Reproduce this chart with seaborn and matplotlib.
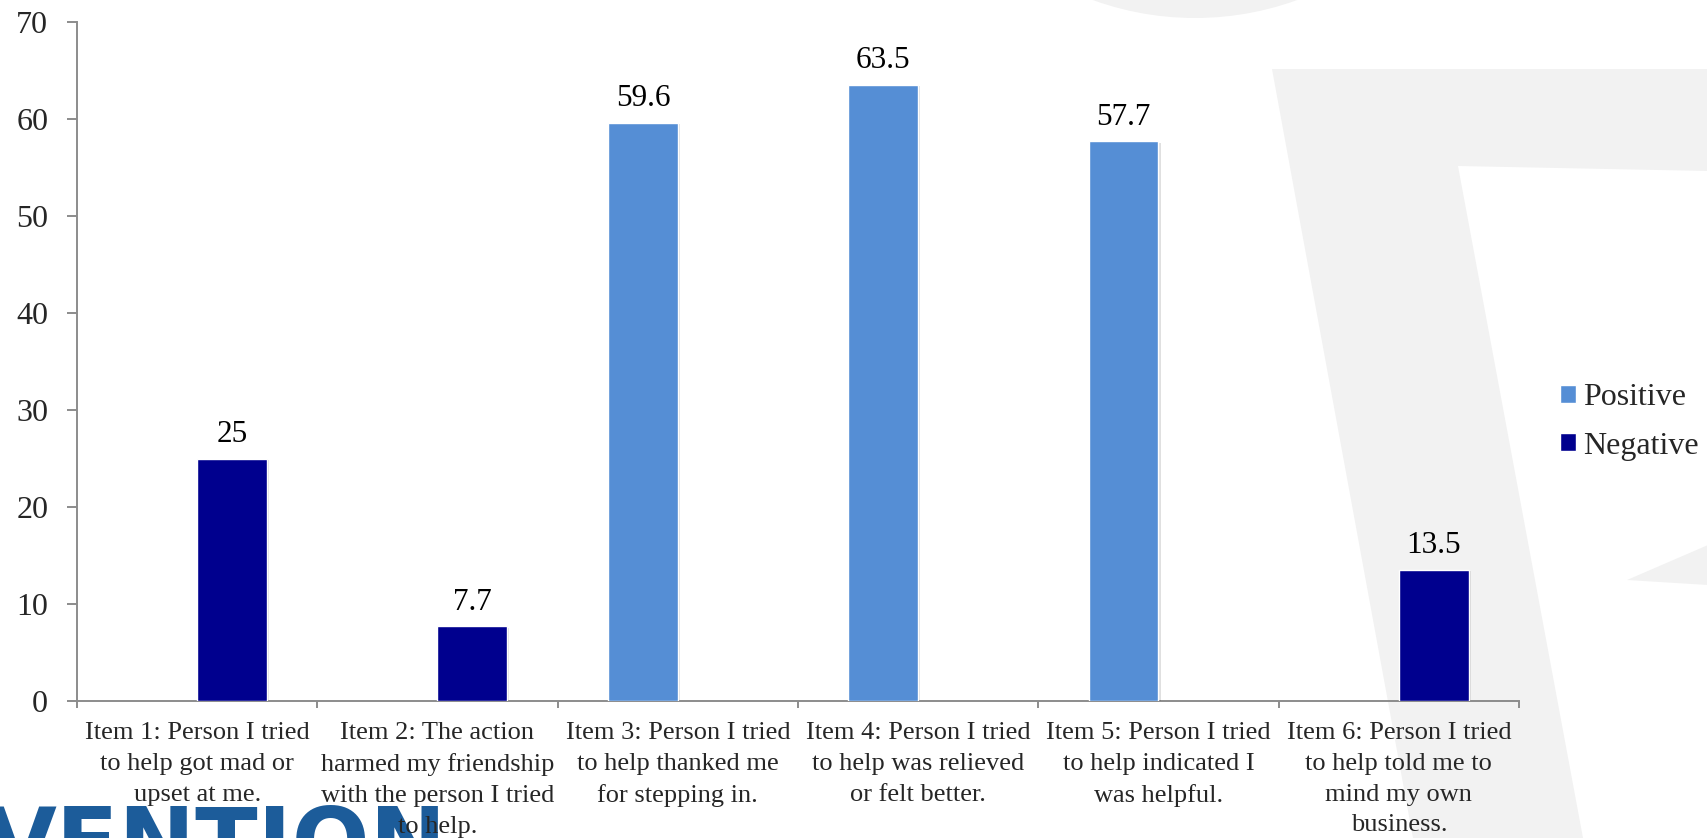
import numpy as np
import pandas as pd
import matplotlib
matplotlib.use("Agg")
import matplotlib.pyplot as plt
import matplotlib.patheffects as pe
from matplotlib.patches import Polygon, Ellipse
from matplotlib.ticker import FixedLocator
import seaborn as sns

# ---- data -------------------------------------------------------------
items = [
    "Item 1: Person I tried\nto help got mad or\nupset at me.",
    "Item 2: The action\nharmed my friendship\nwith the person I tried\nto help.",
    "Item 3: Person I tried\nto help thanked me\nfor stepping in.",
    "Item 4: Person I tried\nto help was relieved\nor felt better.",
    "Item 5: Person I tried\nto help indicated I\nwas helpful.",
    "Item 6: Person I tried\nto help told me to\nmind my own\nbusiness.",
]
positive = [np.nan, np.nan, 59.6, 63.5, 57.7, np.nan]
negative = [25.0, 7.7, np.nan, np.nan, np.nan, 13.5]
series = ["Positive", "Negative"]
colors = {"Positive": "#558ED5", "Negative": "#00008E"}
y_ticks = [0, 10, 20, 30, 40, 50, 60, 70]

df = pd.concat([
    pd.DataFrame({"item": items, "value": positive, "type": "Positive"}),
    pd.DataFrame({"item": items, "value": negative, "type": "Negative"}),
]).dropna()

# ---- figure -----------------------------------------------------------
sns.set_theme(style="white")
plt.rcParams["font.family"] = ["Liberation Serif", "DejaVu Serif"]

W, H = 1708, 838
fig = plt.figure(figsize=(W / 100, H / 100), dpi=100)
fig.patch.set_facecolor("white")

def px(x, y):
    """pixel position (from the top-left corner) -> figure fraction"""
    return (x / W, 1 - y / H)

# faint watermark behind the chart
wm = "#f2f2f2"
fig.patches.append(Ellipse(px(1195, -282), 600 / W, 600 / H, transform=fig.transFigure,
                           facecolor=wm, edgecolor="none", zorder=-5))
fig.patches.append(Polygon([px(1272, 69), px(1708, 69), px(1708, 171), px(1458, 166),
                            px(1583, 838), px(1413, 838)],
                           closed=True, transform=fig.transFigure,
                           facecolor=wm, edgecolor="none", zorder=-5))
fig.patches.append(Polygon([px(1627, 580), px(1708, 545), px(1708, 585)],
                           closed=True, transform=fig.transFigure,
                           facecolor=wm, edgecolor="none", zorder=-5))

# logo lettering at the bottom left
fig.text(-14 / W, 1 - 803 / H, "VENTION", color="#1C5C9A", fontsize=66,
         fontweight="bold", family="DejaVu Sans", va="top", ha="left", zorder=-4)

ax = fig.add_axes([77 / W, 1 - 701 / H, (1519 - 77) / W, (701 - 22) / H])
ax.set_facecolor("none")

sns.barplot(data=df, x="item", y="value", hue="type", order=items,
            hue_order=series, palette=colors, width=0.58, dodge=True,
            saturation=1, ax=ax, zorder=3)

shadow = [pe.SimplePatchShadow(offset=(1.5, -1.0), shadow_rgbFace="black", alpha=0.12),
          pe.Normal()]
for cont in ax.containers:
    for bar in cont:
        bar.set_path_effects(shadow)
    ax.bar_label(cont, fmt="{:g}", padding=7, fontsize=22.5, color="black")

ax.set_ylim(0, 70)
ax.set_xlim(-0.5, len(items) - 0.5)
ax.set_yticks(y_ticks)
ax.set_xlabel("")
ax.set_ylabel("")

for side in ["top", "right"]:
    ax.spines[side].set_visible(False)
for side in ["left", "bottom"]:
    ax.spines[side].set_color("#8c8c8c")
    ax.spines[side].set_linewidth(1.4)

ax.tick_params(axis="y", which="major", length=7.2, width=1.4, color="#8c8c8c",
               labelsize=23, pad=13.5, left=True)
ax.tick_params(axis="x", which="major", length=0, labelsize=19, pad=15)
ax.xaxis.set_minor_locator(FixedLocator(np.arange(-0.5, len(items), 1.0)))
ax.tick_params(axis="x", which="minor", length=5, width=1.4, color="#8c8c8c", bottom=True)
for lbl in ax.get_xticklabels():
    lbl.set_linespacing(1.52)

leg = ax.legend(loc="center left", bbox_to_anchor=px(1560, 422),
                bbox_transform=fig.transFigure, frameon=False, borderpad=0,
                borderaxespad=0, fontsize=23, handlelength=0.5, handleheight=0.5,
                handletextpad=0.22, labelspacing=0.6)

fig.savefig("out.png", dpi=100, facecolor=fig.get_facecolor())
